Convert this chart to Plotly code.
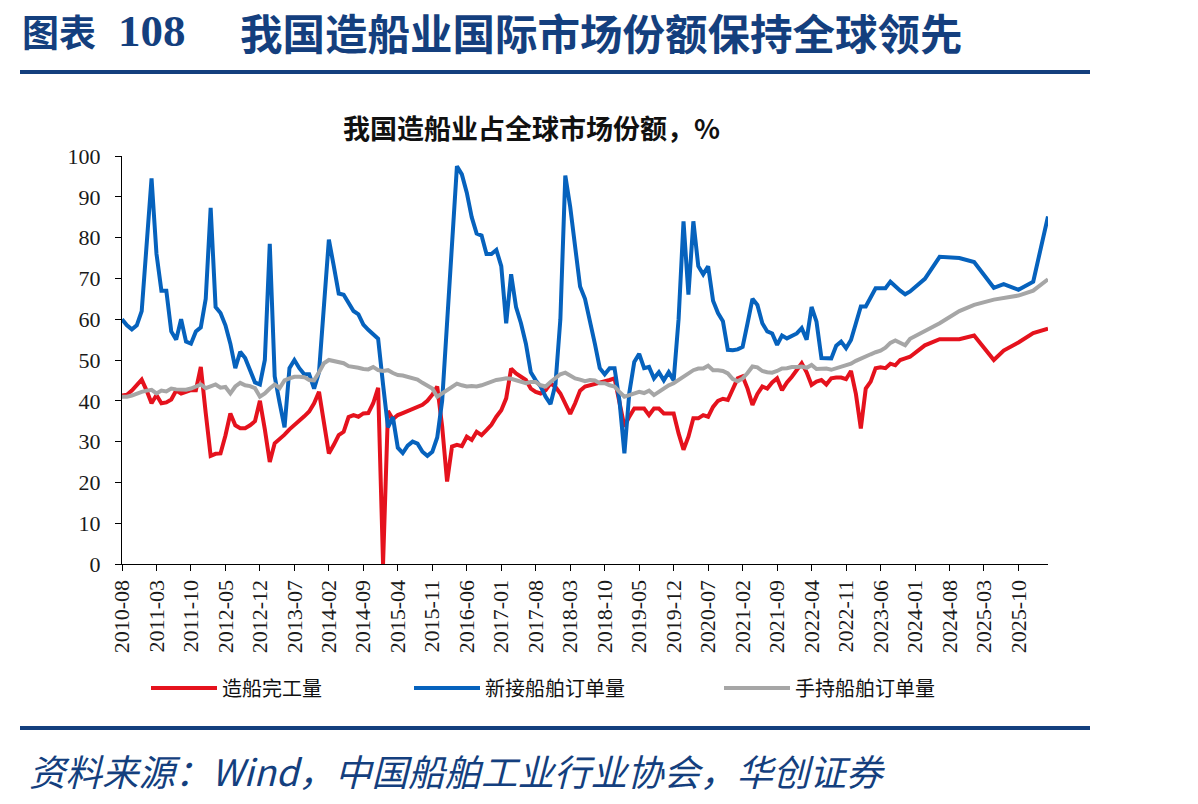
import pandas as pd
import plotly.graph_objects as go

# ---------------- data ----------------
months = list(pd.period_range("2010-08", periods=189, freq="M").strftime("%Y-%m"))
N = None

# 造船完工量 (completions share, %)
completions = [
    41.3, 41.5, 42.5, 43.8, 45.2, 42.5, 39.4, 41.4, 39.4, 39.6,
    40.3, 42.5, 41.8, 42.2, 42.6, 42.6, 48.3, 37.0, 26.5, 27.0,
    27.1, 31.5, 36.9, 34.0, 33.3, 33.3, 34.0, 35.0, 40.0, 33.0,
    25.0, 29.6, 30.5, 31.7, 33.0, 34.0, 35.0, 36.2, 37.4, 39.4,
    42.2, 34.5, 27.1, 29.2, 31.6, 32.4, 36.0, 36.5, 36.1, 36.9,
    37.0, 39.4, 43.2, 0.0, 37.5, 35.5, 36.5, 37.0, 37.5, 38.0,
    38.5, 39.0, 40.0, 41.5, 43.5, 33.7, 20.2, 28.8, 29.2, 28.9,
    31.2, 30.4, 32.4, 31.6, 32.8, 34.1, 36.1, 37.7, 40.6, 47.9,
    46.7, 45.9, 45.1, 43.0, 42.2, 41.8, 42.6, 44.3, 43.4, 41.8,
    39.4, 36.8, 39.4, 42.5, 43.5, 43.8, 44.0, 44.3, 44.7, 45.1,
    45.5, 40.0, 33.7, 36.1, 38.1, 38.1, 38.1, 36.5, 38.1, 38.1,
    36.9, 36.9, 36.9, 32.0, 28.0, 31.2, 35.7, 35.7, 36.5, 36.1,
    38.5, 40.0, 40.5, 40.2, 43.0, 45.5, 46.0, 43.0, 39.0, 41.7,
    43.5, 43.0, 44.5, 45.5, 42.6, 44.5, 45.9, 47.5, 49.2, 47.0,
    43.9, 44.7, 45.1, 44.0, 45.5, 45.7, 45.7, 45.3, 47.3, 41.7,
    33.2, 43.0, 44.7, 48.0, 48.2, 48.0, 49.1, 48.7, 50.0, 50.4,
    50.8, N, N, 53.6, N, N, 55.1, N, N, N,
    55.1, N, N, 56.0, N, N, N, 50.0, N, 52.3,
    N, N, 54.3, N, N, 56.6, N, N, 57.7,
]

# 新接船舶订单量 (new orders share, %)
new_orders = [
    60.0, 58.5, 57.5, 58.5, 62.0, 78.0, 94.5, 76.0, 67.0, 67.0,
    57.0, 55.0, 60.0, 54.5, 54.0, 57.0, 58.0, 65.0, 87.3, 63.0,
    61.5, 58.5, 54.0, 48.0, 52.0, 50.5, 47.5, 44.5, 44.0, 50.0,
    78.5, 46.0, 39.5, 33.5, 48.0, 50.0, 48.0, 46.5, 46.5, 43.0,
    47.0, 63.0, 79.5, 73.0, 66.3, 66.0, 64.0, 62.0, 61.2, 58.7,
    57.4, 56.2, 55.2, 44.0, 33.5, 36.0, 28.5, 27.2, 29.0, 30.0,
    29.5, 27.5, 26.5, 27.5, 31.0, 40.0, 58.0, 76.0, 97.5, 95.5,
    91.0, 85.0, 81.0, 80.5, 76.0, 76.0, 77.0, 73.0, 59.0, 71.0,
    63.0, 59.0, 54.0, 47.0, 45.0, 43.5, 41.0, 39.2, 44.0, 60.0,
    95.2, 87.5, 78.0, 68.0, 65.0, 60.0, 54.0, 48.0, 46.5, 48.0,
    48.0, 40.0, 27.1, 42.0, 49.5, 51.5, 48.0, 48.3, 45.5, 47.0,
    45.0, 47.0, 45.0, 60.0, 84.0, 66.0, 84.0, 73.0, 71.0, 73.0,
    64.5, 61.5, 59.5, 52.5, 52.4, 52.6, 53.2, 59.0, 65.0, 63.5,
    59.0, 57.0, 56.5, 53.7, 56.0, 55.3, 56.0, 56.5, 57.8, 55.0,
    63.0, 59.4, 50.5, 50.4, 50.4, 53.5, 54.5, 52.9, 54.9, 59.0,
    63.1, 63.1, 65.5, 67.6, 67.6, 67.6, 69.2, 68.0, 67.0, 66.1,
    66.8, N, N, 69.9, N, N, 75.3, N, N, N,
    75.0, N, N, 74.0, N, N, N, 67.7, N, 68.6,
    N, N, 67.2, N, N, 69.2, N, N, 85.2,
]

# 手持船舶订单量 (orderbook share, %)
orderbook = [
    41.0, 41.0, 41.3, 41.8, 42.2, 42.5, 42.7, 41.8, 42.5, 42.3,
    43.0, 42.8, 42.8, 42.7, 43.0, 43.5, 44.0, 43.1, 43.6, 44.0,
    43.2, 43.4, 41.8, 43.5, 44.4, 43.8, 43.6, 43.1, 41.0, 41.8,
    43.0, 44.0, 43.1, 45.0, 45.5, 45.9, 45.9, 45.8, 45.1, 45.0,
    47.0, 49.2, 50.0, 49.7, 49.6, 49.2, 48.5, 48.4, 48.1, 47.8,
    47.7, 48.3, 47.5, 47.3, 47.5, 46.8, 46.3, 46.2, 45.9, 45.6,
    45.2, 44.4, 43.8, 43.0, 41.0, 41.8, 42.6, 43.4, 44.2, 43.8,
    43.5, 43.6, 43.5, 43.8, 44.3, 44.6, 45.1, 45.3, 45.5, 45.4,
    45.1, 44.7, 44.3, 44.6, 44.6, 43.8, 43.5, 44.6, 45.5, 46.5,
    46.9, 46.3, 45.5, 45.2, 44.8, 45.1, 45.0, 44.3, 44.3, 43.8,
    43.5, 42.2, 41.0, 41.4, 41.8, 42.2, 41.9, 42.5, 41.4, 42.2,
    43.0, 43.8, 44.3, 45.1, 45.9, 46.5, 47.5, 47.9, 47.9, 48.6,
    47.5, 47.5, 47.3, 46.7, 45.3, 44.8, 45.5, 46.8, 48.4, 48.2,
    47.3, 47.0, 46.9, 47.3, 47.9, 48.0, 48.3, 48.3, 48.4, 48.1,
    48.8, 47.8, 47.9, 47.9, 47.6, 48.0, 48.3, 48.6, 49.1, 49.8,
    50.4, 50.9, 51.4, 51.9, 52.3, 53.0, 54.2, 54.8, 54.1, 53.6,
    55.2, N, N, 57.0, N, N, 59.0, N, N, N,
    62.0, N, N, 63.5, N, N, N, 64.8, N, 65.3,
    N, N, 65.8, N, N, 67.0, N, N, 69.8,
]

series_names = ["造船完工量", "新接船舶订单量", "手持船舶订单量"]
series_colors = ["#E5121D", "#0662BD", "#A6A6A6"]
tick_labels = months[::7]
y_ticks = list(range(0, 101, 10))

# ---------------- figure ----------------
W, H = 1198, 804
def px(x):
    return x / W
def py(y):
    return 1 - y / H

NAVY = "#143F7E"
CJK = "Noto Sans CJK SC"
SERIF = "Liberation Serif"

fig = go.Figure()
legend_ids = ["legend", "legend2", "legend3"]
for name, vals, col, lg in zip(series_names, [completions, new_orders, orderbook], series_colors, legend_ids):
    fig.add_trace(go.Scatter(
        x=months, y=vals, name=name, mode="lines", connectgaps=True,
        line=dict(color=col, width=4), legend=lg, showlegend=True,
    ))

fig.update_layout(
    template="none",
    width=W, height=H, showlegend=True,
    margin=dict(l=0, r=0, t=0, b=0, autoexpand=False),
    paper_bgcolor="white", plot_bgcolor="white",
    xaxis=dict(
        domain=[px(122), px(1048)], type="category", range=[0, 188], automargin=False,
        tickmode="array", tickvals=tick_labels, ticktext=tick_labels,
        tickangle=-90, ticks="outside", ticklen=6, tickcolor="black", tickwidth=1,
        showline=True, linecolor="black", linewidth=1.3, showgrid=False, zeroline=False,
        tickfont=dict(family=SERIF, size=22, color="#1a1a1a"),
    ),
    yaxis=dict(
        domain=[py(564), py(156)], range=[0, 100], tickmode="array", tickvals=y_ticks,
        automargin=False,
        ticks="outside", ticklen=6, tickcolor="black", tickwidth=1,
        showline=True, linecolor="black", linewidth=1.3, showgrid=False, zeroline=False,
        tickfont=dict(family=SERIF, size=22, color="#1a1a1a"), ticklabelstandoff=10,
    ),
)

legend_x = [146, 409, 719]
for lg, lx in zip(legend_ids, legend_x):
    fig.update_layout({lg: dict(
        orientation="h", x=px(lx), y=py(688), xanchor="left", yanchor="middle",
        font=dict(family=CJK, size=20, color="#111111"), bgcolor="rgba(0,0,0,0)",
        itemwidth=66, borderwidth=0, visible=True,
    )})

# decorative rules
fig.add_shape(type="line", xref="paper", yref="paper", x0=px(20), x1=px(1090), y0=py(72), y1=py(72),
              line=dict(color=NAVY, width=4))
fig.add_shape(type="line", xref="paper", yref="paper", x0=px(20), x1=px(1090), y0=py(728), y1=py(728),
              line=dict(color=NAVY, width=4))

# titles
TITLE_Y = py(31)
fig.add_annotation(text="<b>图表</b>", x=px(21), y=TITLE_Y, xref="paper", yref="paper",
                   xanchor="left", yanchor="middle", showarrow=False, borderpad=0,
                   font=dict(family=CJK, size=37, color=NAVY))
fig.add_annotation(text="<b>108</b>", x=px(117), y=TITLE_Y, xref="paper", yref="paper",
                   xanchor="left", yanchor="middle", showarrow=False, borderpad=0,
                   font=dict(family=SERIF, size=45, color=NAVY))
fig.add_annotation(text="<b>我国造船业国际市场份额保持全球领先</b>", x=px(239), y=TITLE_Y, xref="paper", yref="paper",
                   xanchor="left", yanchor="middle", showarrow=False, borderpad=0,
                   font=dict(family=CJK, size=42.5, color=NAVY))
fig.add_annotation(text="<b>我国造船业占全球市场份额，%</b>", x=px(531), y=py(128), xref="paper", yref="paper",
                   xanchor="center", yanchor="middle", showarrow=False,
                   font=dict(family=CJK, size=27, color="#111111"))
fig.add_annotation(text="<i>资料来源：Wind，中国船舶工业行业协会，华创证券</i>", x=px(27), y=py(770),
                   xref="paper", yref="paper", xanchor="left", yanchor="middle", showarrow=False,
                   font=dict(family=CJK, size=36.5, color=NAVY))

fig.write_html("out.html")
